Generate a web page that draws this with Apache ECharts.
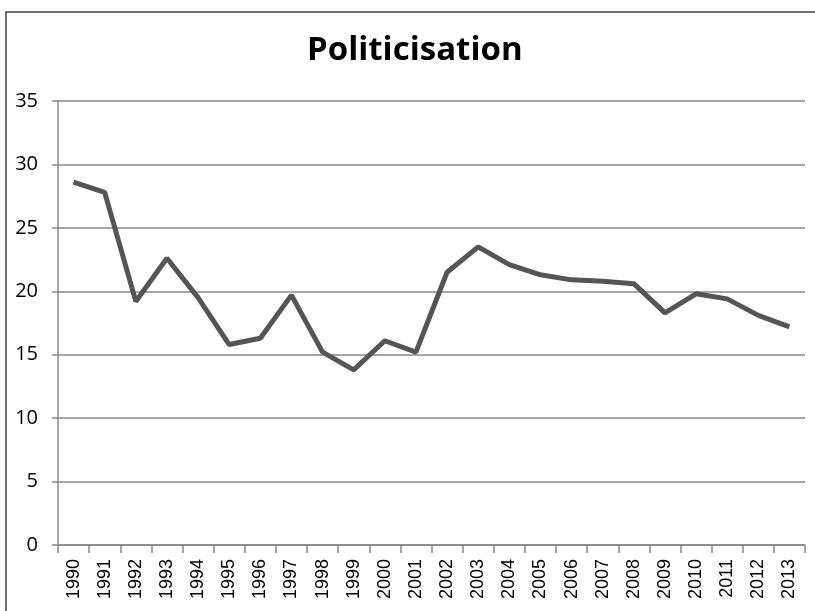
<!DOCTYPE html>
<html><head><meta charset="utf-8">
<script src="https://cdn.jsdelivr.net/npm/echarts@6/dist/echarts.min.js"></script>
<style>html,body{margin:0;padding:0;background:#fff}#c{width:815px;height:611px}</style>
</head><body><div id="c"></div>
<script>
const years = ['1990','1991','1992','1993','1994','1995','1996','1997','1998','1999','2000','2001','2002','2003','2004','2005','2006','2007','2008','2009','2010','2011','2012','2013'];
const politicisation = [28.6,27.8,19.2,22.6,19.5,15.8,16.3,19.7,15.2,13.8,16.1,15.2,21.5,23.5,22.1,21.3,20.9,20.8,20.6,18.3,19.8,19.4,18.1,17.2];
const yTicks = {min:0, max:35, interval:5};
const chart = echarts.init(document.getElementById('c'));
chart.setOption({
  animation:false,
  title:{text:'Politicisation',left:302,top:29,textStyle:{fontFamily:'Open Sans',fontWeight:'bold',fontSize:33,color:'#000'}},
  graphic:[{type:'polyline',shape:{points:[[6,700],[6,12],[900,12]]},style:{stroke:'#444',lineWidth:1.5,fill:null}}],
  grid:{left:58,right:10,top:101,bottom:66},
  xAxis:{type:'category',data:years,boundaryGap:true,
    axisLine:{lineStyle:{color:'#888',width:1.5}},
    axisTick:{show:true,alignWithLabel:false,length:8,lineStyle:{color:'#888',width:1.5}},
    axisLabel:{rotate:90,fontFamily:'Liberation Sans',fontSize:18,color:'#000',margin:14,interval:0}},
  yAxis:{type:'value',min:yTicks.min,max:yTicks.max,interval:yTicks.interval,
    axisLine:{show:true,lineStyle:{color:'#888',width:1.5}},
    axisTick:{show:true,length:6,lineStyle:{color:'#888',width:1.5}},
    splitLine:{lineStyle:{color:'#888',width:1.5}},
    axisLabel:{fontFamily:'Open Sans',fontSize:20,color:'#000',margin:20}},
  series:[{type:'line',data:politicisation,symbol:'none',lineStyle:{color:'#555',width:5}}]
});
</script></body></html>
